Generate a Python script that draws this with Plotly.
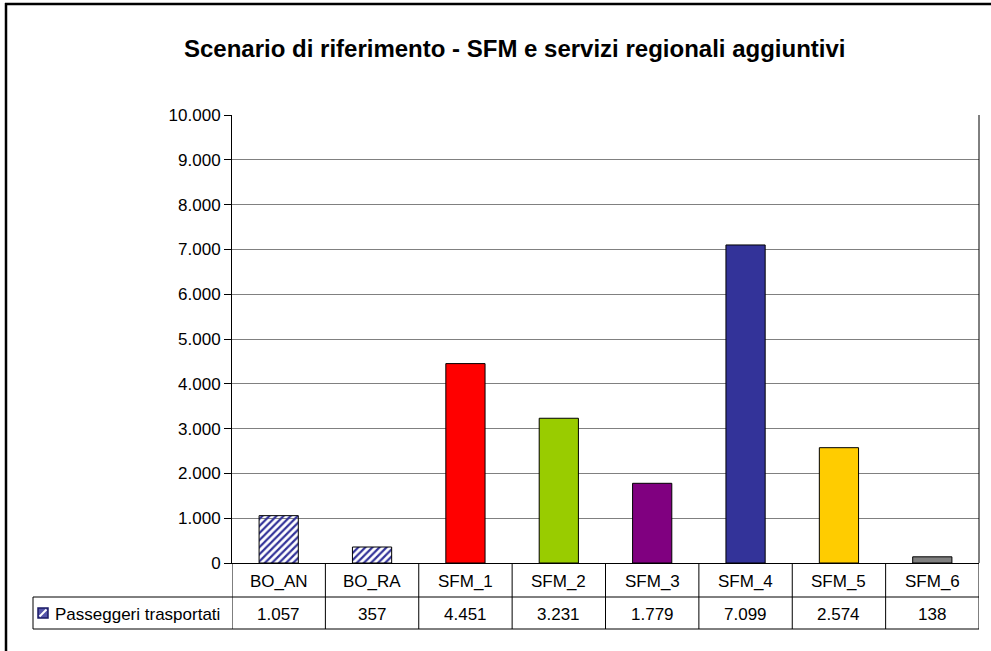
import plotly.graph_objects as go

# Passengers carried per line (reference scenario)
categories = ["BO_AN", "BO_RA", "SFM_1", "SFM_2", "SFM_3", "SFM_4", "SFM_5", "SFM_6"]
passengers = [1057, 357, 4451, 3231, 1779, 7099, 2574, 138]
bar_colors = ["#333399", "#333399", "#ff0000", "#99cc00", "#800080", "#333399", "#ffcc00", "#808080"]
bar_patterns = ["/", "/", "", "", "", "", "", ""]
series_name = "Passeggeri trasportati"
title_text = "Scenario di riferimento - SFM e servizi regionali aggiuntivi"
y_ticks = list(range(0, 10001, 1000))

W, H = 991, 651
L, R, T, B = 232, 979, 115, 563  # plot area in pixels


def px(x):
    return (x - L) / (R - L)


def py(y):
    return (B - y) / (B - T)


def fmt(v):
    return f"{v:,}".replace(",", ".")


FONT = "Liberation Sans, Arial, sans-serif"

fig = go.Figure(
    go.Bar(
        x=categories,
        y=passengers,
        width=0.42,
        marker=dict(
            color=bar_colors,
            line=dict(color="#000000", width=1),
            pattern=dict(
                shape=bar_patterns,
                bgcolor="#ffffff",
                fillmode="replace",
                size=5,
                solidity=0.45,
            ),
        ),
        name=series_name,
        showlegend=False,
    )
)

shapes = []
annotations = []

# outer chart frame (top and left edges fall inside the page)
frame = dict(color="#000000", width=2.5)
shapes.append(dict(type="line", xref="paper", yref="paper",
                   x0=px(5), x1=px(W + 4), y0=py(4), y1=py(4), line=frame, layer="above"))
shapes.append(dict(type="line", xref="paper", yref="paper",
                   x0=px(6), x1=px(6), y0=py(3), y1=py(H + 4), line=frame, layer="above"))
# right border of the plot area
shapes.append(dict(type="line", xref="paper", yref="paper",
                   x0=1, x1=1, y0=0, y1=1,
                   line=dict(color="#000000", width=1)))

# data table below the axis
row1, row2 = 597, 629
tcol = "#000000"
shapes.append(dict(type="line", xref="paper", yref="paper",
                   x0=px(33), x1=1, y0=py(row1), y1=py(row1),
                   line=dict(color=tcol, width=1)))
shapes.append(dict(type="line", xref="paper", yref="paper",
                   x0=px(33), x1=1, y0=py(row2), y1=py(row2),
                   line=dict(color=tcol, width=1)))
shapes.append(dict(type="line", xref="paper", yref="paper",
                   x0=px(33), x1=px(33), y0=py(row1), y1=py(row2),
                   line=dict(color=tcol, width=1)))
for i in range(len(categories) + 1):
    shapes.append(dict(type="line", xref="x", yref="paper",
                       x0=i - 0.5, x1=i - 0.5, y0=0, y1=py(row2),
                       line=dict(color=tcol, width=1)))

for c, v in zip(categories, passengers):
    annotations.append(dict(x=c, xref="x", y=py((B + row1) / 2 + 1), yref="paper",
                            text=c, showarrow=False, yanchor="middle",
                            font=dict(family=FONT, size=17, color="#000000")))
    annotations.append(dict(x=c, xref="x", y=py((row1 + row2) / 2 + 1), yref="paper",
                            text=fmt(v), showarrow=False, yanchor="middle",
                            font=dict(family=FONT, size=17, color="#000000")))

# series key in the table header cell
kx0, kx1, ky0, ky1 = 38, 48, 608, 618
shapes.append(dict(type="rect", xref="paper", yref="paper",
                   x0=px(kx0), x1=px(kx1), y0=py(ky1), y1=py(ky0),
                   fillcolor="#5555aa", line=dict(color="#1a1a66", width=1.5)))
shapes.append(dict(type="line", xref="paper", yref="paper",
                   x0=px(kx0 + 1.5), x1=px(kx1 - 1.5), y0=py(ky1 - 1.5), y1=py(ky0 + 1.5),
                   line=dict(color="#ffffff", width=2)))
annotations.append(dict(x=px(53), xref="paper", y=py((row1 + row2) / 2 + 1), yref="paper",
                        text=series_name, showarrow=False, xanchor="left", yanchor="middle",
                        font=dict(family=FONT, size=17, color="#000000")))

# chart title
annotations.append(dict(x=px(514), xref="paper", y=py(48), yref="paper",
                        text=f"<b>{title_text}</b>", showarrow=False,
                        xanchor="center", yanchor="middle",
                        font=dict(family=FONT, size=24, color="#000000")))

fig.update_layout(
    width=W, height=H,
    margin=dict(l=L, r=W - R, t=T, b=H - B, pad=0),
    paper_bgcolor="#ffffff",
    plot_bgcolor="#ffffff",
    separators=",.",
    shapes=shapes,
    annotations=annotations,
    font=dict(family=FONT, size=16, color="#000000"),
)
fig.update_xaxes(
    type="category",
    range=[-0.5, len(categories) - 0.5],
    showticklabels=False,
    ticks="",
    showgrid=False,
    showline=True, linecolor="#000000", linewidth=1,
    zeroline=False,
)
fig.update_yaxes(
    range=[0, 10000],
    tickvals=y_ticks,
    ticktext=[fmt(t) for t in y_ticks],
    ticks="outside", ticklen=7, tickcolor="#000000",
    tickfont=dict(family=FONT, size=17, color="#000000"),
    showgrid=True, gridcolor="#808080", gridwidth=1,
    showline=True, linecolor="#000000", linewidth=1,
    zeroline=False,
)

fig.write_html("out.html")
